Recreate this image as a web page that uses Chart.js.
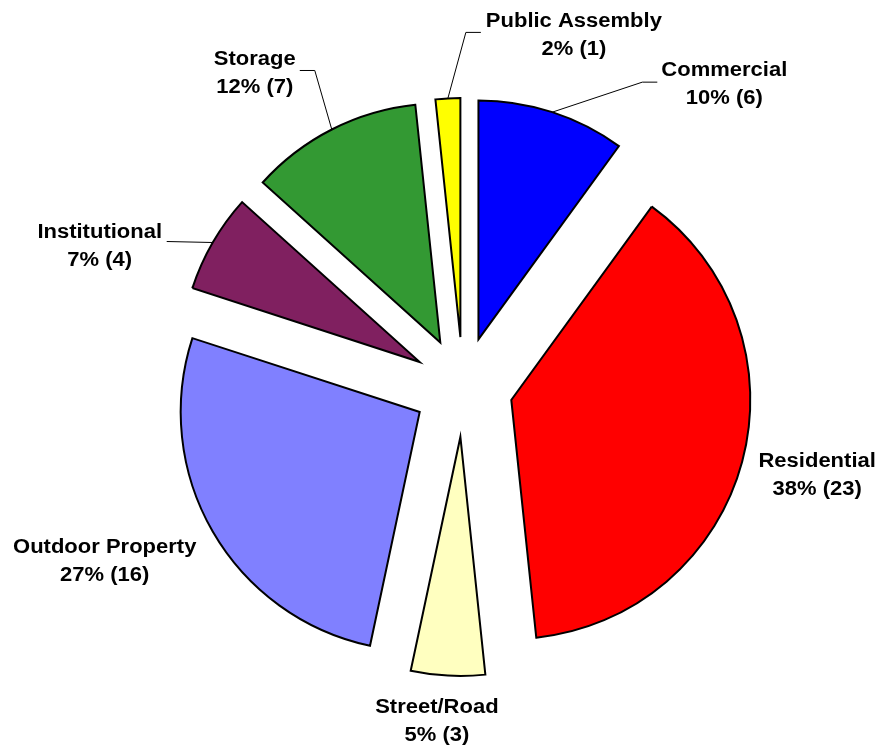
<!DOCTYPE html>
<html>
<head>
<meta charset="utf-8">
<script src="https://cdn.jsdelivr.net/npm/chart.js@4/dist/chart.umd.min.js"></script>
<style>
  body { margin: 0; background: #fff; }
  #wrap { width: 883px; height: 748px; }
</style>
</head>
<body>
<div id="wrap"><canvas id="fireChart"></canvas></div>
<script>
var categories = ['Commercial', 'Residential', 'Street/Road', 'Outdoor Property', 'Institutional', 'Storage', 'Public Assembly'];
var counts = [6, 23, 3, 16, 4, 7, 1];
var colors = ['#0000FF', '#FF0000', '#FFFFC0', '#8080FF', '#802060', '#339933', '#FFFF00'];

var total = counts.reduce(function (a, b) { return a + b; }, 0);
var explode = 50; // px each slice is pulled out from the centre

// where each label sits relative to the slice's outer mid point, plus leader line points
var labelSpots = [
    { dx: 172, dy: -28, leader: [[90, -30], [105, -30]] },
    { dx: 75, dy: 14, leader: null },
    { dx: -11, dy: 46, leader: null },
    { dx: -108, dy: 30, leader: null },
    { dx: -113, dy: 4, leader: [[-46, -1]] },
    { dx: -77, dy: -56, leader: [[-17, -59], [-32, -59]] },
    { dx: 126, dy: -63, leader: [[18, -66], [33, -66]] }
];

// pull every slice out by the same distance (chart.js' own offset also grows the radius)
var explodeSlices = {
    id: 'explodeSlices',
    afterDatasetUpdate: function (chart, args) {
        var arcs = chart.getDatasetMeta(args.index).data;
        arcs.forEach(function (arc) {
            var mid = (arc.startAngle + arc.endAngle) / 2;
            arc.x += Math.cos(mid) * explode;
            arc.y += Math.sin(mid) * explode;
        });
    }
};

var pieLabels = {
    id: 'pieLabels',
    afterDatasetsDraw: function (chart) {
        var ctx = chart.ctx;
        var arcs = chart.getDatasetMeta(0).data;
        ctx.save();
        arcs.forEach(function (arc, i) {
            var mid = (arc.startAngle + arc.endAngle) / 2;
            var ex = arc.x + Math.cos(mid) * arc.outerRadius;
            var ey = arc.y + Math.sin(mid) * arc.outerRadius;
            var spot = labelSpots[i];

            if (spot.leader) {
                ctx.strokeStyle = '#000';
                ctx.lineWidth = 1;
                ctx.beginPath();
                ctx.moveTo(ex, ey);
                spot.leader.forEach(function (pt) { ctx.lineTo(ex + pt[0], ey + pt[1]); });
                ctx.stroke();
            }

            var pct = Math.round(counts[i] / total * 100);
            var lines = [categories[i], pct + '% (' + counts[i] + ')'];
            var cx = ex + spot.dx;
            var cy = ey + spot.dy;
            ctx.fillStyle = '#000';
            ctx.font = 'bold 20px "Liberation Sans", Arial, sans-serif';
            ctx.textAlign = 'center';
            ctx.textBaseline = 'middle';
            lines.forEach(function (t, k) {
                ctx.save();
                ctx.translate(cx, cy + (k - 0.5) * 28);
                ctx.scale(1.1, 1);
                ctx.fillText(t, 0, 0);
                ctx.restore();
            });
        });
        ctx.restore();
    }
};

var ctx = document.getElementById('fireChart').getContext('2d');
var chart = new Chart(ctx, {
    type: 'pie',
    data: {
        labels: categories,
        datasets: [{
            data: counts,
            backgroundColor: colors,
            borderColor: '#000',
            borderWidth: 2,
            borderJoinStyle: 'miter',
            clip: false,
            hoverOffset: 0
        }]
    },
    options: {
        responsive: true,
        maintainAspectRatio: false,
        animation: false,
        events: [],
        radius: 239,
        layout: { padding: { left: 43, top: 26, right: 0, bottom: 0 } },
        plugins: {
            legend: { display: false },
            tooltip: { enabled: false }
        }
    },
    plugins: [explodeSlices, pieLabels]
});
</script>
</body>
</html>
